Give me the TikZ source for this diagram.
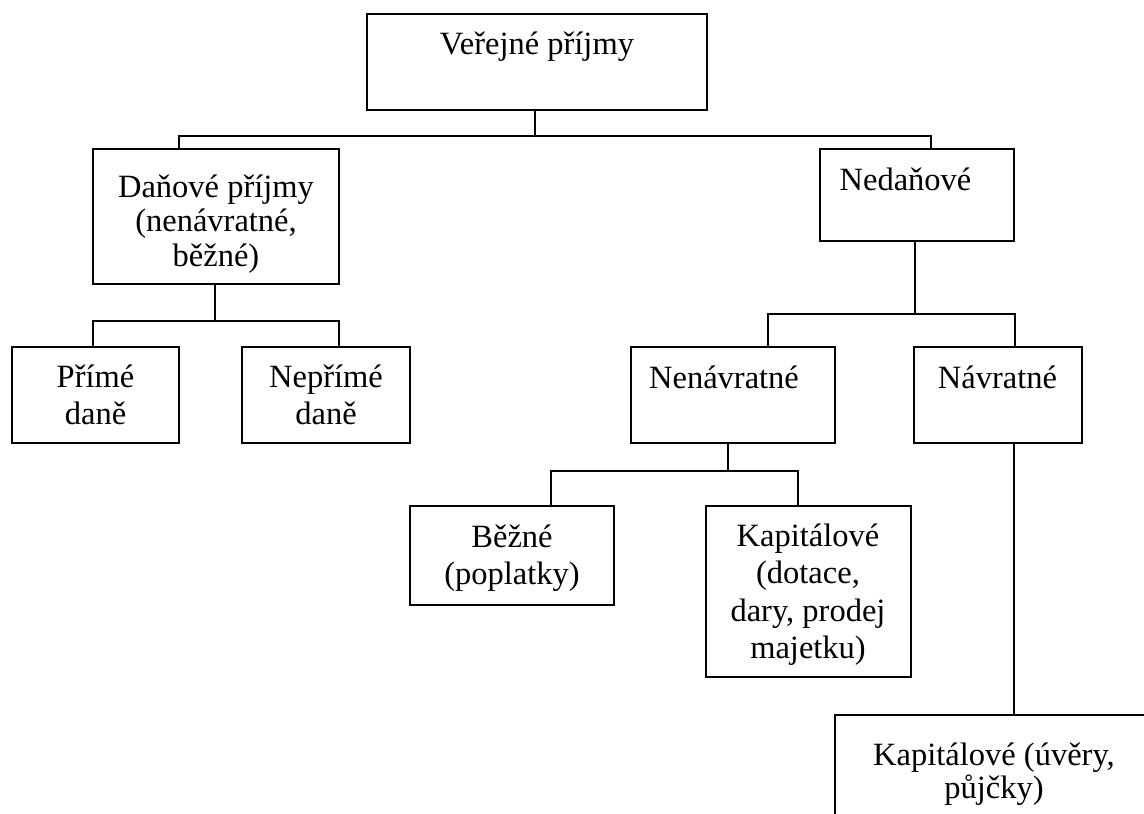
\documentclass[tikz,border=0pt]{standalone}
\usepackage{fontspec}
\setmainfont{Liberation Serif}
\newcommand\fsz{\fontsize{32.5}{37}\selectfont}
\newcommand\mlines[1]{\begin{tabular}[t]{@{}c@{}}#1\end{tabular}}
\begin{document}
\begin{tikzpicture}[x=1pt,y=-1pt,
  box/.style={draw, line width=2pt, inner sep=0pt, outer sep=0pt, anchor=north west},
  lbl/.style={anchor=base, inner sep=0pt, font=\fsz},
  conn/.style={draw, line width=2pt}]
\useasboundingbox (0,0) rectangle (1144,814);
\clip (0,0) rectangle (1144,814);
% boxes
\node[box, minimum width=340pt, minimum height=96pt] (v) at (367,14) {};
\node[box, minimum width=246pt, minimum height=135pt] (d) at (93,149) {};
\node[box, minimum width=194pt, minimum height=92pt] (n) at (820,149) {};
\node[box, minimum width=167pt, minimum height=96pt] (p) at (12,347) {};
\node[box, minimum width=168pt, minimum height=96pt] (np) at (242,347) {};
\node[box, minimum width=204pt, minimum height=96pt] (nn) at (631,347) {};
\node[box, minimum width=168pt, minimum height=96pt] (nv) at (914,347) {};
\node[box, minimum width=204pt, minimum height=99pt] (b) at (410,506) {};
\node[box, minimum width=205pt, minimum height=171pt] (k) at (706,506) {};
\node[box, minimum width=320pt, minimum height=130pt] (ku) at (835,715) {};
% texts
\node[lbl] (tv) at (537,54) {Veřejné příjmy};
\node[lbl, font=\fontsize{32.5}{34.5}\selectfont] (td) at (216,197) {\mlines{Daňové příjmy\\(nenávratné,\\běžné)}};
\node[lbl] (tn) at (905.5,190) {Nedaňové};
\node[lbl] (tp) at (95.5,387) {\mlines{Přímé\\daně}};
\node[lbl] (tnp) at (326,387) {\mlines{Nepřímé\\daně}};
\node[lbl] (tnn) at (724,388) {Nenávratné};
\node[lbl] (tnv) at (997.5,388) {Návratné};
\node[lbl] (tb) at (512,547) {\mlines{Běžné\\(poplatky)}};
\node[lbl, font=\fontsize{32.5}{37.5}\selectfont] (tk) at (808,546) {\mlines{Kapitálové\\(dotace,\\dary, prodej\\majetku)}};
\node[lbl, font=\fontsize{32.5}{33}\selectfont] (tku) at (994,765) {\mlines{Kapitálové (úvěry,\\půjčky)}};
% junctions and drop positions
\coordinate (j1) at (535,136);
\coordinate (j2) at (215,321);
\coordinate (j3) at (915,314);
\coordinate (j4) at (728,471);
\coordinate (x179) at (179,0);
\coordinate (x931) at (931,0);
\coordinate (x93) at (93,0);
\coordinate (x339) at (339,0);
\coordinate (x768) at (768,0);
\coordinate (x1015) at (1015,0);
\coordinate (x551) at (551,0);
\coordinate (x798) at (798,0);
\coordinate (x1014) at (1014,0);
% connectors
\draw[conn] (v.south -| j1) -- (j1);
\draw[conn] (d.north -| x179) |- (j1) -| (n.north -| x931);
\draw[conn] (d.south -| j2) -- (j2);
\draw[conn] (p.north -| x93) |- (j2) -| (np.north -| x339);
\draw[conn] (n.south -| j3) -- (j3);
\draw[conn] (nn.north -| x768) |- (j3) -| (nv.north -| x1015);
\draw[conn] (nn.south -| j4) -- (j4);
\draw[conn] (b.north -| x551) |- (j4) -| (k.north -| x798);
\draw[conn] (nv.south -| x1014) -- (ku.north -| x1014);
\end{tikzpicture}
\end{document}
